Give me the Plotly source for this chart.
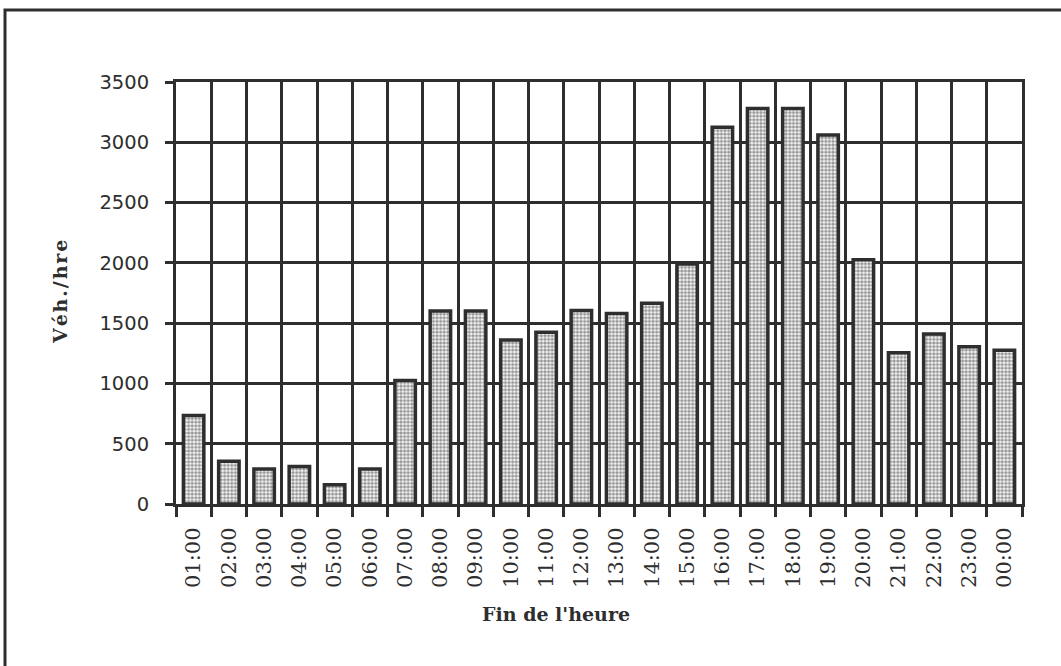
import plotly.graph_objects as go

hours = ["01:00", "02:00", "03:00", "04:00", "05:00", "06:00", "07:00", "08:00",
         "09:00", "10:00", "11:00", "12:00", "13:00", "14:00", "15:00", "16:00",
         "17:00", "18:00", "19:00", "20:00", "21:00", "22:00", "23:00", "00:00"]
vehicles = [735, 355, 290, 310, 160, 290, 1025, 1600,
            1600, 1360, 1425, 1605, 1580, 1665, 1990, 3125,
            3280, 3280, 3060, 2025, 1255, 1410, 1305, 1275]
y_ticks = [0, 500, 1000, 1500, 2000, 2500, 3000, 3500]

ink = "#2e2e2e"

fig = go.Figure(go.Bar(
    x=hours, y=vehicles,
    width=0.58,
    marker=dict(
        color="white",
        line=dict(color=ink, width=3.5),
        pattern=dict(shape=".", fgcolor=ink, bgcolor="white", size=3.6, solidity=0.65),
    ),
))

L, R, T, B = 176, 39, 82, 162
fig.update_layout(
    width=1061, height=666,
    margin=dict(l=L, r=R, t=T, b=B),
    paper_bgcolor="white", plot_bgcolor="white",
    showlegend=False,
)

fig.update_xaxes(
    type="category",
    tickson="boundaries",
    showgrid=True, gridcolor=ink, gridwidth=3,
    showline=True, linecolor=ink, linewidth=3, mirror=True,
    ticks="outside", ticklen=10, tickwidth=3, tickcolor=ink,
    tickangle=-90, ticklabelstandoff=12,
    tickfont=dict(family="DejaVu Serif", size=21, color=ink),
)
fig.update_yaxes(
    range=[0, 3500],
    tickvals=y_ticks,
    showgrid=True, gridcolor=ink, gridwidth=3,
    showline=True, linecolor=ink, linewidth=3, mirror=True,
    ticks="outside", ticklen=8, tickwidth=3, tickcolor=ink,
    ticklabelstandoff=12,
    zeroline=False,
    tickfont=dict(family="DejaVu Sans", size=19.5, color=ink),
)

pw, ph = 1061 - L - R, 666 - T - B
fig.add_annotation(
    text="<b>V\u200aé\u200ah\u200a.\u200a/\u200ah\u200ar\u200ae</b>", xref="paper", yref="paper",
    x=(60 - L) / pw, y=(504 - 292) / ph, textangle=-90, showarrow=False,
    xanchor="center", yanchor="middle",
    font=dict(family="DejaVu Serif", size=19, color=ink),
)
fig.add_annotation(
    text="<b>Fin de l'heure</b>", xref="paper", yref="paper",
    x=(556 - L) / pw, y=(504 - 614) / ph, showarrow=False,
    xanchor="center", yanchor="middle",
    font=dict(family="DejaVu Serif", size=19, color=ink),
)

# frame around the figure
fig.add_shape(
    type="rect", xref="paper", yref="paper",
    x0=(5 - L) / pw, x1=(1075 - L) / pw,
    y0=(504 - 690) / ph, y1=(504 - 10) / ph,
    line=dict(color=ink, width=3), fillcolor="rgba(0,0,0,0)",
    layer="below",
)

fig.write_html("out.html", config={"displayModeBar": False},
               post_script="document.body.style.margin='0px';")
